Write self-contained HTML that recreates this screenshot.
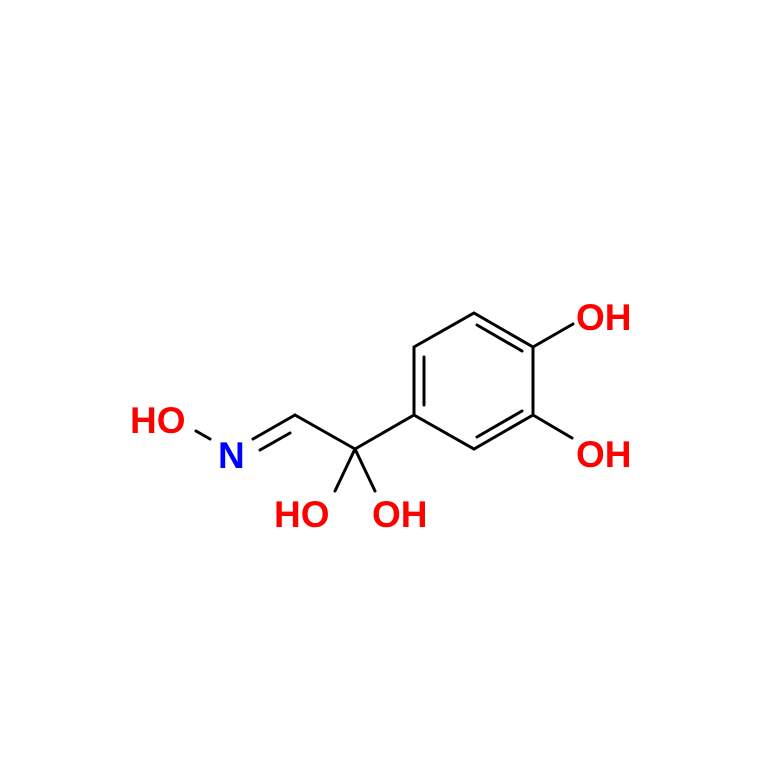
<!DOCTYPE html>
<html><head><style>body{margin:0;background:#fff}</style></head><body>
<svg width="768" height="769" viewBox="0 0 768 769" xmlns="http://www.w3.org/2000/svg">
<rect width="768" height="769" fill="#fff"/>
<g stroke="#000" stroke-width="3" fill="none" stroke-linecap="round">
<polygon points="474,313 533,347 533,415 474,449 414,415 414,347"/>
<line x1="424" y1="357" x2="424" y2="405"/>
<line x1="477" y1="325" x2="522" y2="351"/>
<line x1="477" y1="437" x2="522" y2="411"/>
<line x1="533" y1="347" x2="573" y2="324"/>
<line x1="533" y1="415" x2="572" y2="438"/>
<line x1="414" y1="415" x2="355" y2="449"/>
<line x1="355" y1="449" x2="295" y2="415"/>
<line x1="295" y1="415" x2="253" y2="439"/>
<line x1="290" y1="433" x2="260" y2="450"/>
<line x1="210" y1="439" x2="196" y2="431"/>
<line x1="355" y1="449" x2="335" y2="491"/>
<line x1="355" y1="449" x2="375" y2="491"/>
</g>
<g style="font-family:'Liberation Sans',Arial,sans-serif;font-weight:bold;font-size:37px" fill="#f00">
<text x="576" y="330">OH</text>
<text x="576" y="467">OH</text>
<text x="130" y="433">HO</text>
<text x="274" y="527">HO</text>
<text x="372" y="527">OH</text>
<text x="218" y="468" fill="#00f">N</text>
</g>
</svg>
</body></html>
